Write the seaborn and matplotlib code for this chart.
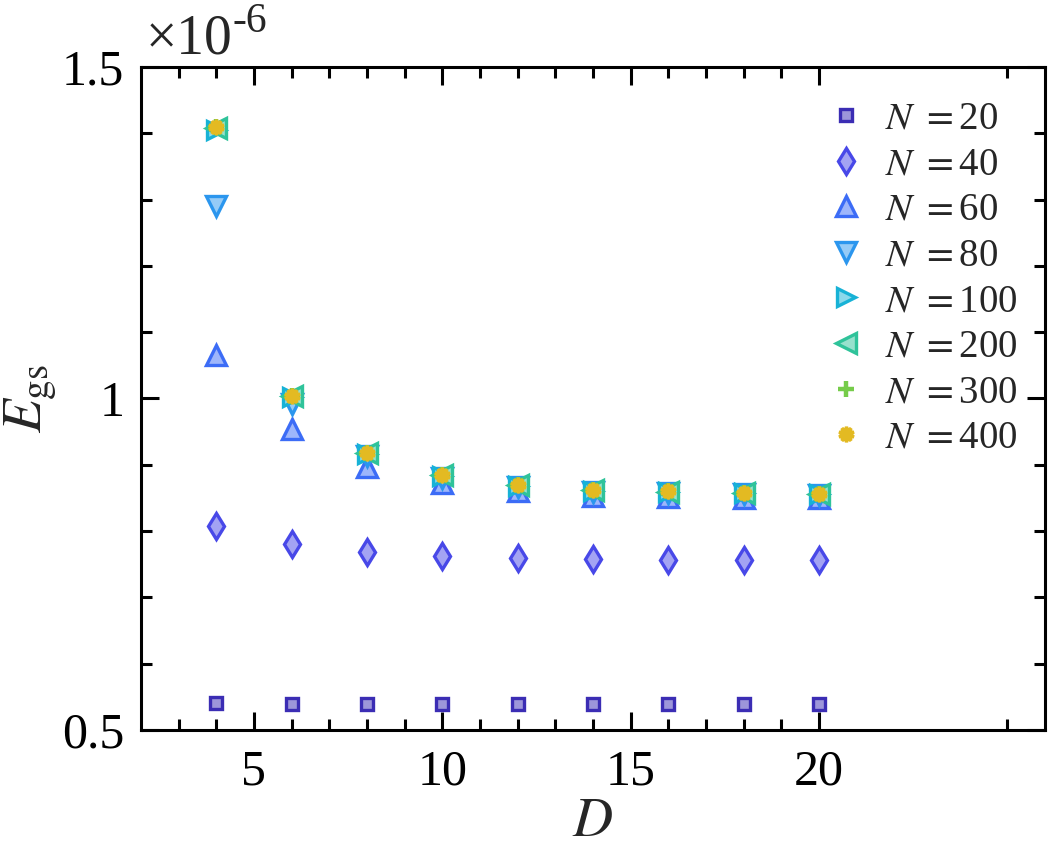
import numpy as np
import pandas as pd
import seaborn as sns
import matplotlib.pyplot as plt
from matplotlib.ticker import FixedLocator, FixedFormatter

# ground state energy E_gs (in units of 1e-6) versus bond dimension D
D = [4, 6, 8, 10, 12, 14, 16, 18, 20]

e_n20 = [0.540, 0.539, 0.539, 0.539, 0.539, 0.539, 0.539, 0.539, 0.539]
e_n40 = [0.808, 0.781, 0.768, 0.762, 0.759, 0.758, 0.757, 0.756, 0.756]
e_n60 = [1.065, 0.954, 0.897, 0.872, 0.860, 0.853, 0.851, 0.850, 0.850]
e_n80 = [1.291, 0.992, 0.913, 0.880, 0.866, 0.859, 0.857, 0.856, 0.855]
e_n100 = [1.405, 1.002, 0.917, 0.883, 0.868, 0.861, 0.859, 0.857, 0.856]
e_n200 = [1.408, 1.003, 0.918, 0.884, 0.869, 0.862, 0.859, 0.858, 0.856]
e_n300 = [1.409, 1.004, 0.918, 0.884, 0.869, 0.862, 0.860, 0.858, 0.856]
e_n400 = [1.409, 1.004, 0.918, 0.884, 0.869, 0.862, 0.860, 0.858, 0.856]

sizes = [20, 40, 60, 80, 100, 200, 300, 400]
energies = [e_n20, e_n40, e_n60, e_n80, e_n100, e_n200, e_n300, e_n400]

edge_colors = ['#3b2db4', '#4848e8', '#3c6cf6', '#2b96ee',
               '#17b2d6', '#2fc39a', '#76cc4a', '#e3ba22']
markers = ['s', 'd', '^', 'v', '>', '<', '+', (10, 1, 0)]
msizes = [8.5, 13, 14, 14, 13, 14, 11, 11]

x_major = [5, 10, 15, 20]
x_minor = [3, 4, 6, 7, 8, 9, 11, 12, 13, 14, 16, 17, 18, 19, 25]
y_major = [0.5, 1.0, 1.5]
y_major_labels = ['0.5', '1', '1.5']
y_minor = [0.6, 0.7, 0.8, 0.9, 1.1, 1.2, 1.3, 1.4]

sns.set_theme(style='white')
plt.rcParams['font.family'] = ['Liberation Serif', 'DejaVu Serif']
plt.rcParams['mathtext.fontset'] = 'stix'

fig = plt.figure(figsize=(10.48, 8.5), dpi=100)
ax = fig.add_axes([0.1345, 0.1412, 0.8625, 0.78])

for n, e, c, m, ms in zip(sizes, energies, edge_colors, markers, msizes):
    df = pd.DataFrame({'D': D, 'E': e})
    rgb = np.array(plt.matplotlib.colors.to_rgb(c))
    if n == 400:
        face = c
    else:
        face = tuple(1 - 0.5 * (1 - rgb))
    sns.lineplot(data=df, x='D', y='E', ax=ax, errorbar=None,
                 linestyle='', marker=m, markersize=ms,
                 markeredgecolor=c, markerfacecolor=face,
                 markeredgewidth=3.2 if m == '+' else 2.4,
                 label=r'$N\ {=}$' + str(n))

ax.set_xlim(2, 26)
ax.set_ylim(0.5, 1.5)

ax.xaxis.set_major_locator(FixedLocator(x_major))
ax.xaxis.set_minor_locator(FixedLocator(x_minor))
ax.yaxis.set_major_locator(FixedLocator(y_major))
ax.yaxis.set_major_formatter(FixedFormatter(y_major_labels))
ax.yaxis.set_minor_locator(FixedLocator(y_minor))

ax.tick_params(which='both', direction='in', top=True, right=True,
               bottom=True, left=True, width=2.2, colors='black')
ax.tick_params(which='major', length=13, labelsize=36)
ax.tick_params(which='minor', length=8)
ax.tick_params(axis='x', which='major', pad=14)
ax.tick_params(axis='y', which='major', pad=12)

for sp in ax.spines.values():
    sp.set_color('black')
    sp.set_linewidth(2.2)

ax.set_xlabel(r'$D$', fontsize=40, labelpad=0)
ax.set_ylabel(r'$E_{\mathrm{gs}}$', fontsize=40, labelpad=2)

fig.text(146 / 1048, 1 - 54 / 850, '×10', fontsize=40,
         ha='left', va='baseline')
fig.text(232 / 1048, 1 - 32 / 850, '-6', fontsize=30,
         ha='left', va='baseline')

leg = ax.legend(loc='upper right', frameon=False, fontsize=28,
                handletextpad=0.35, labelspacing=0.22, borderaxespad=0.3,
                bbox_to_anchor=(1.0, 0.99), handlelength=1.3)

fig.savefig('out.png', dpi=100)
